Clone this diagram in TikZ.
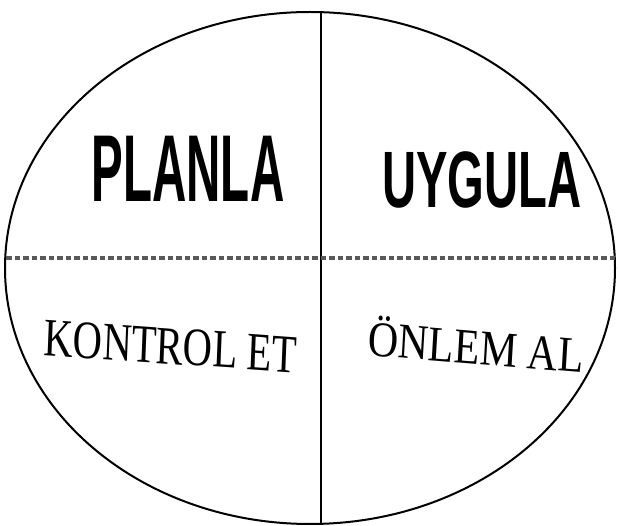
\documentclass[tikz,border=0pt]{standalone}
\usepackage{fontspec}
\setmainfont{Liberation Serif}
\newfontfamily\markerfont{Liberation Sans}
\usepackage{tikz}
\definecolor{dashgray}{gray}{0.35}

\tikzset{
  handword/.style={anchor=base, inner sep=0pt, font=\markerfont\bfseries},
  printword/.style={anchor=base, inner sep=0pt, font=\rmfamily}
}

\begin{document}
\begin{tikzpicture}[x=1pt, y=-1pt, thick]
  \useasboundingbox (0, 0) rectangle (619, 526);

  % outer ellipse and the two dividing lines
  \draw [line width=2pt] (310, 268) ellipse [x radius=305, y radius=256];
  \coordinate (top) at (321, 12);
  \coordinate (bottom) at (321, 524);
  \coordinate (left) at (6, 258);
  \coordinate (right) at (615, 258);
  \draw [line width=1.5pt] (top) -- (bottom);
  \draw [color=dashgray, line width=3.2pt, dash pattern=on 5.5pt off 3pt] (left) -- (right);

  \node [handword, xscale=0.5] (plan) at (188, 202) {\fontsize{95}{95}\selectfont PLANLA};
  \node [handword, xscale=0.59] (do) at (482, 208) {\fontsize{80}{80}\selectfont UYGULA};

  \node [printword, xscale=0.75, rotate=-3] (check) at (170, 364) {\fontsize{54}{54}\selectfont KONTROL ET};
  \node [printword, xscale=0.84, rotate=-4] (act) at (475, 364) {\fontsize{50}{50}\selectfont ÖNLEM AL};
\end{tikzpicture}
\end{document}
